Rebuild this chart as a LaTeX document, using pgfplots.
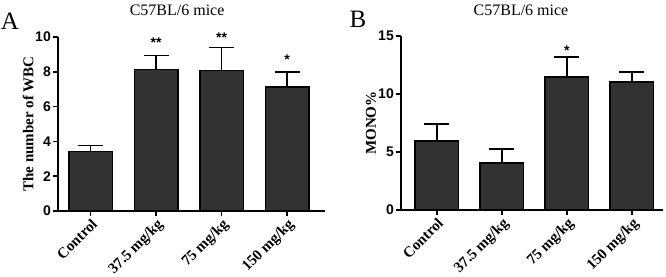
\documentclass[border=0pt]{standalone}
\usepackage{fontspec}
\setmainfont{Liberation Serif}
\newfontfamily\arialf{Liberation Sans}
\usepackage{pgfplots}
\pgfplotsset{compat=1.18}
\definecolor{barfill}{RGB}{50,50,50}

\pgfplotsset{
  mybars/.style={
    scale only axis,
    anchor=south west,
    axis lines=left,
    axis line style={-, line width=1.5pt, black},
    tick align=outside,
    major tick length=5pt,
    tick style={line width=1.5pt, black},
    ymin=0,
    xtick={0,1,2,3},
    xticklabels={Control, 37.5 mg/kg, 75 mg/kg, 150 mg/kg},
    x tick label style={rotate=45, anchor=north east, inner sep=1pt,
      font=\bfseries\fontsize{15}{15}\selectfont},
    y tick label style={font=\arialf\bfseries\fontsize{14}{14}\selectfont, inner sep=2pt},
    /pgf/number format/assume math mode=true,
    ylabel style={font=\bfseries\fontsize{15}{15}\selectfont},
    every axis title shift=0pt,
    title style={anchor=base, font=\fontsize{16}{16}\selectfont},
    clip=false,
  },
  mybarplot/.style={
    ybar, bar width=43.5pt, bar shift=0pt,
    fill=barfill, draw=black, line width=1.5pt,
    error bars/.cd, y dir=plus, y explicit,
    error bar style={line width=1.5pt, black},
    error mark options={rotate=90, mark size=12.5pt, line width=1.5pt, black},
  },
  stars/.style={
    draw=none, mark=none, nodes near coords, point meta=explicit symbolic,
    every node near coord/.style={anchor=center, font=\arialf\bfseries\fontsize{14}{14}\selectfont},
  }
}

\begin{document}
\begin{tikzpicture}
\useasboundingbox (0,0) rectangle (666pt,276pt);

\node[anchor=base, font=\fontsize{25}{25}\selectfont] at (10pt,246pt) {A};
\node[anchor=base, font=\fontsize{25}{25}\selectfont] at (358pt,248pt) {B};

\begin{axis}[mybars,
  at={(58pt,65pt)},
  width=267pt, height=174pt,
  xmin=-0.5, xmax=3.58,
  ymax=10, ytick={0,2,4,6,8,10},
  ylabel={The number of WBC},
  ylabel style={at={(axis description cs:-0.112,0.5)}, anchor=center},
  title={C57BL/6 mice},
  title style={at={(axis description cs:0.446,1.126)}},
]
\addplot[mybarplot] coordinates {
  (0,3.42) +- (0,0.35)
  (1,8.12) +- (0,0.81)
  (2,8.08) +- (0,1.31)
  (3,7.13) +- (0,0.87)
};
\addplot[stars] coordinates {
  (1,9.69) [**]
  (2,9.97) [**]
  (3,8.70) [*]
};
\end{axis}

\begin{axis}[mybars,
  at={(401pt,66pt)},
  width=262pt, height=174pt,
  xmin=-0.55, xmax=3.48,
  ymax=15, ytick={0,5,10,15},
  ylabel={MONO\%},
  ylabel style={at={(axis description cs:-0.115,0.5)}, anchor=center},
  title={C57BL/6 mice},
  title style={at={(axis description cs:0.458,1.12)}},
]
\addplot[mybarplot] coordinates {
  (0,5.95) +- (0,1.46)
  (1,4.05) +- (0,1.21)
  (2,11.47) +- (0,1.72)
  (3,11.03) +- (0,0.87)
};
\addplot[stars] coordinates {
  (2,13.71) [*]
};
\end{axis}
\end{tikzpicture}
\end{document}
